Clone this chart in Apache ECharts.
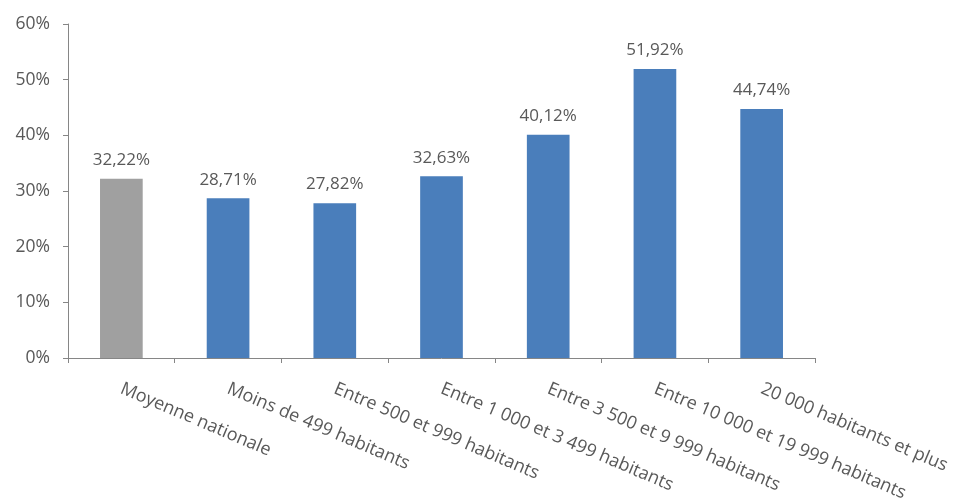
<!DOCTYPE html>
<html>
<head>
<meta charset="utf-8">
<script src="https://cdn.jsdelivr.net/npm/echarts@6/dist/echarts.min.js"></script>
<style>
  html, body { margin: 0; padding: 0; background: #ffffff; }
  #chart { width: 959px; height: 501px; }
</style>
</head>
<body>
<div id="chart"></div>
<script>
// Share (%) per commune size class, national average first
const categories = [
  'Moyenne nationale',
  'Moins de 499 habitants',
  'Entre 500 et 999 habitants',
  'Entre 1 000 et 3 499 habitants',
  'Entre 3 500 et 9 999 habitants',
  'Entre 10 000 et 19 999 habitants',
  '20 000 habitants et plus'
];
const values = [32.22, 28.71, 27.82, 32.63, 40.12, 51.92, 44.74];
const yTicks = [0, 10, 20, 30, 40, 50, 60];

const FONT = '"Open Sans", "Liberation Sans", sans-serif';
const TEXT = '#595959';
const AXIS = '#868686';
const BLUE = '#4A7EBB';
const GREY = '#A0A0A0';

const chart = echarts.init(document.getElementById('chart'), null, { renderer: 'canvas' });

chart.setOption({
  animation: false,
  backgroundColor: '#ffffff',
  grid: {
    left: 68, right: 144, top: 24, bottom: 143,
    containLabel: false,
    outerBoundsMode: 'none'
  },
  xAxis: {
    type: 'category',
    data: categories,
    boundaryGap: true,
    axisLine: { lineStyle: { color: AXIS, width: 1 } },
    axisTick: { show: true, length: 5, lineStyle: { color: AXIS } },
    axisLabel: {
      interval: 0,
      hideOverlap: false,
      rotate: -23,
      margin: 30,
      color: TEXT,
      fontFamily: FONT,
      fontSize: 18
    },
    splitLine: { show: false }
  },
  yAxis: {
    type: 'value',
    min: yTicks[0],
    max: yTicks[yTicks.length - 1],
    interval: yTicks[1] - yTicks[0],
    axisLine: { show: true, lineStyle: { color: AXIS, width: 1 } },
    axisTick: { show: true, length: 5, lineStyle: { color: AXIS } },
    axisLabel: {
      margin: 18,
      color: TEXT,
      fontFamily: FONT,
      fontSize: 17.5,
      formatter: v => v + '%'
    },
    splitLine: { show: false }
  },
  series: [{
    type: 'bar',
    data: values,
    barWidth: '40%',
    itemStyle: {
      color: p => (p.dataIndex === 0 ? GREY : BLUE)
    },
    label: {
      show: true,
      position: 'top',
      distance: 10,
      color: TEXT,
      fontFamily: FONT,
      fontSize: 17,
      formatter: p => p.value.toFixed(2).replace('.', ',') + '%'
    }
  }]
});
</script>
</body>
</html>
